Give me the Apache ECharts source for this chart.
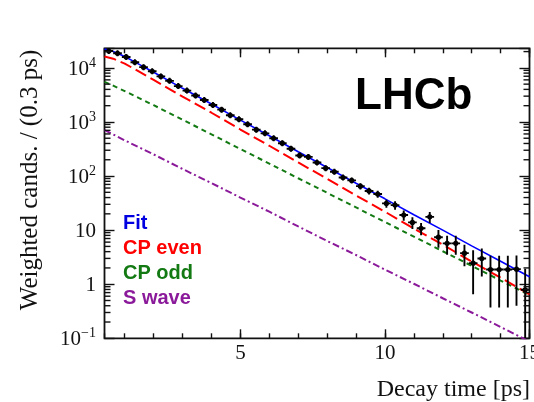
<!DOCTYPE html>
<html>
<head>
<meta charset="utf-8">
<script src="https://cdn.jsdelivr.net/npm/echarts@6/dist/echarts.min.js"></script>
<style>
html,body{margin:0;padding:0;background:#fff;}
#c{width:534px;height:402px;}
</style>
</head>
<body>
<div id="c"></div>
<script>
// ---------------- data ----------------
const binWidth = 0.3;
const binCenters = [0.45,0.75,1.05,1.35,1.65,1.95,2.25,2.55,2.85,3.15,3.45,3.75,4.05,4.35,4.65,4.95,
  5.25,5.55,5.85,6.15,6.45,6.75,7.05,7.35,7.65,7.95,8.25,8.55,8.85,9.15,9.45,9.75,10.05,10.35,
  10.65,10.95,11.25,11.55,11.85,12.15,12.45,12.75,13.05,13.35,13.65,13.95,14.25,14.55,14.85];
const counts = [20500,18600,15900,12700,10300,8650,6950,5750,4600,3800,3080,2540,2060,1690,1330,1120,
  905,720,615,500,405,320,240,226,178,140,120,94,83,65,53,46.5,31.2,29.0,
  19.0,13.9,10.8,17.6,7.4,5.7,5.7,3.75,2.45,2.99,1.87,1.87,1.87,1.9,0.79];
const countErrors = [150,145,130,118,107,98,88,80,71,65,58,53,48,43,38,35,
  32,28,26,24,21,19,16,16,14,12.5,11.5,10,9.5,8.5,7.6,7.0,5.4,5.2,
  4.1,3.4,2.8,4.0,2.7,2.2,2.2,1.6,1.8,1.6,1.5,1.5,1.5,1.5,1.15];

const curveTimes   = [0.3,0.6,1,1.5,2,3,4,5,6,7,8,9,10,11,12,13,14,15];
const fitValues    = [22400,20070,16180,11590,8290,4185,2144,1081,555,281,144,73.5,37.9,19.3,10.0,5.12,2.65,1.37];
const cpEvenValues = [16200,14800,12000,8500,6000,2950,1480,725,363,178,89,43.7,21.9,10.7,5.37,2.63,1.32,0.65];
const cpOddValues  = [5500,4680,3720,2750,2040,1100,590,316,170,91,49,26.3,14.1,7.6,4.07,2.19,1.17,0.63];
const sWaveValues  = [708,589,457,339,251,135,74,40,21.9,11.7,6.3,3.47,1.86,1.02,0.55,0.30,0.162,0.087];

const yDecades = [0.1,1,10,100,1000,10000];
const yMinorMultipliers = [2,3,4,5,6,7,8,9];

const X_MIN = 0.3, X_MAX = 15, Y_MIN = 0.1, Y_MAX = 23000;

// ---------------- styles ----------------
const serif = '"Liberation Serif","DejaVu Serif",serif';
const sans = '"Liberation Sans",Arial,sans-serif';
const ink = '#111';
const cBlue = '#0000ff', cRed = '#ff0000', cGreen = '#137a13', cPurple = '#8b1a9a';

const yMinorTicks = [];
yDecades.forEach(d => yMinorMultipliers.forEach(m => { const v = d * m; if (v < Y_MAX) yMinorTicks.push(v); }));

function pairs(xs, ys) { return xs.map((x, i) => [x, ys[i]]); }

function yLabel(v) {
  const e = Math.round(Math.log10(v));
  if (Math.abs(v / Math.pow(10, e) - 1) > 1e-6) return '';
  if (e === 1) return '{b|10}';
  if (e === 0) return '{b|1}';
  return '{b|10}{s|' + (e < 0 ? '\u2212' + (-e) : e) + '}';
}

function xAxisDef(pos, step, len, labels) {
  return {
    type: 'value', position: pos, min: X_MIN, max: X_MAX,
    minInterval: step, maxInterval: step,
    axisLine: { show: false }, splitLine: { show: false },
    axisTick: { show: true, inside: true, length: len, lineStyle: { color: ink, width: 1.4 } },
    axisLabel: labels ? {
      show: true, showMinLabel: false, margin: 15, verticalAlign: 'middle',
      fontFamily: serif, fontSize: 21, color: ink,
      formatter: v => (Math.abs(v % 5) < 1e-9 ? String(Math.round(v)) : '')
    } : { show: false }
  };
}

function yAxisDef(pos, labels) {
  return {
    type: 'log', logBase: 10, position: pos, min: Y_MIN, max: Y_MAX,
    axisLine: { show: false }, splitLine: { show: false },
    axisTick: { show: true, inside: true, length: 10, lineStyle: { color: ink, width: 1.4 } },
    axisLabel: labels ? {
      show: true, margin: 8.5, formatter: yLabel,
      rich: {
        b: { fontFamily: serif, fontSize: 21, color: ink, lineHeight: 24, verticalAlign: 'bottom' },
        s: { fontFamily: serif, fontSize: 14, color: ink, lineHeight: 10, verticalAlign: 'top' }
      }
    } : { show: false }
  };
}

const chart = echarts.init(document.getElementById('c'), null, { renderer: 'canvas' });

const option = {
  animation: false,
  backgroundColor: '#fff',
  grid: {
    left: 104.5, top: 48.3, right: 4.5, bottom: 63.7,
    show: true, borderColor: ink, borderWidth: 1.8, backgroundColor: 'transparent',
    containLabel: false, outerBoundsMode: 'none'
  },
  xAxis: [
    xAxisDef('bottom', 1, 5, false),
    xAxisDef('bottom', 5, 9, true),
    xAxisDef('top', 1, 5, false),
    xAxisDef('top', 5, 9, false)
  ],
  yAxis: [ yAxisDef('left', true), yAxisDef('right', false) ],
  series: [
    {
      name: 'yMinor', type: 'custom', xAxisIndex: 0, yAxisIndex: 0, silent: true, z: 10,
      data: yMinorTicks.map(v => [X_MIN, v]),
      encode: { x: 0, y: 1 },
      renderItem: function (params, api) {
        const v = api.value(1);
        const l = api.coord([X_MIN, v]);
        const r = api.coord([X_MAX, v]);
        const s = { stroke: ink, lineWidth: 1.4 };
        return { type: 'group', children: [
          { type: 'line', shape: { x1: l[0], y1: l[1], x2: l[0] + 6, y2: l[1] }, style: s },
          { type: 'line', shape: { x1: r[0], y1: r[1], x2: r[0] - 6, y2: r[1] }, style: s }
        ]};
      }
    },
    {
      name: 'S wave', type: 'line', data: pairs(curveTimes, sWaveValues), showSymbol: false, z: 3,
      lineStyle: { color: cPurple, width: 2, type: [7, 3, 2, 3] }
    },
    {
      name: 'CP odd', type: 'line', data: pairs(curveTimes, cpOddValues), showSymbol: false, z: 3,
      lineStyle: { color: cGreen, width: 2, type: [5, 4] }
    },
    {
      name: 'CP even', type: 'line', data: pairs(curveTimes, cpEvenValues), showSymbol: false, z: 3,
      lineStyle: { color: cRed, width: 2, type: [12, 5] }
    },
    {
      name: 'Fit', type: 'line', data: pairs(curveTimes, fitValues), showSymbol: false, z: 4,
      lineStyle: { color: cBlue, width: 1.6 }
    },
    {
      name: 'Data', type: 'custom', z: 5, clip: true,
      data: binCenters.map((t, i) => [t, counts[i], countErrors[i]]),
      dimensions: ['t', 'n', 'err'],
      encode: { x: 0, y: 1 },
      renderItem: function (params, api) {
        const t = api.value(0), v = api.value(1), e = api.value(2);
        const lo = Math.max(v - e, Y_MIN), hi = Math.min(v + e, Y_MAX);
        const c = api.coord([t, v]);
        const pl = api.coord([t, lo]), ph = api.coord([t, hi]);
        const xl = api.coord([Math.max(t - binWidth / 2, X_MIN), v]);
        const xr = api.coord([Math.min(t + binWidth / 2, X_MAX), v]);
        const s = { stroke: '#000', lineWidth: 1.9 };
        return { type: 'group', children: [
          { type: 'line', shape: { x1: c[0], y1: Math.max(pl[1], c[1] + 3), x2: c[0], y2: Math.min(ph[1], c[1] - 3) }, style: s },
          { type: 'line', shape: { x1: xl[0], y1: c[1], x2: xr[0], y2: c[1] }, style: s },
          { type: 'circle', shape: { cx: c[0], cy: c[1], r: 2.6 }, style: { fill: '#000' } }
        ]};
      }
    }
  ],
  graphic: [
    { type: 'text', x: 355, y: 97, z: 100,
      style: { text: 'LHCb', fontFamily: sans, fontWeight: 'bold', fontSize: 44, fill: '#000', align: 'left', verticalAlign: 'middle' } },
    { type: 'text', x: 123, y: 223.5, z: 100,
      style: { text: 'Fit', fontFamily: sans, fontWeight: 'bold', fontSize: 20, fill: '#0000e0', align: 'left', verticalAlign: 'middle' } },
    { type: 'text', x: 123, y: 248.5, z: 100,
      style: { text: 'CP even', fontFamily: sans, fontWeight: 'bold', fontSize: 20, fill: cRed, align: 'left', verticalAlign: 'middle' } },
    { type: 'text', x: 123, y: 273.5, z: 100,
      style: { text: 'CP odd', fontFamily: sans, fontWeight: 'bold', fontSize: 20, fill: cGreen, align: 'left', verticalAlign: 'middle' } },
    { type: 'text', x: 123, y: 298.5, z: 100,
      style: { text: 'S wave', fontFamily: sans, fontWeight: 'bold', fontSize: 20, fill: cPurple, align: 'left', verticalAlign: 'middle' } },
    { type: 'text', x: 30, y: 180, rotation: Math.PI / 2, z: 100,
      style: { text: 'Weighted cands. / (0.3 ps)', fontFamily: serif, fontSize: 25, fill: ink, align: 'center', verticalAlign: 'middle' } },
    { type: 'text', x: 530, y: 390, z: 100,
      style: { text: 'Decay time [ps]', fontFamily: serif, fontSize: 24, fill: ink, align: 'right', verticalAlign: 'middle' } }
  ]
};

chart.setOption(option);
</script>
</body>
</html>
